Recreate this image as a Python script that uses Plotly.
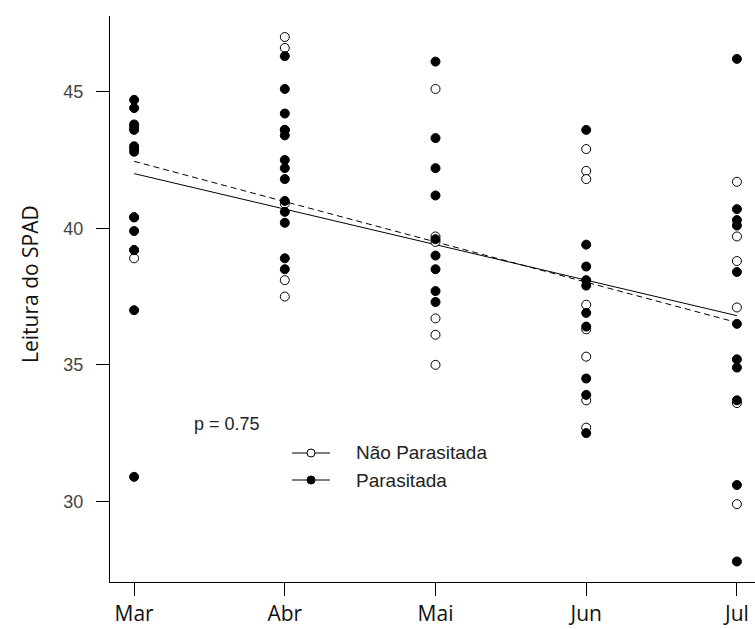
import plotly.graph_objects as go

months = ["Mar", "Abr", "Mai", "Jun", "Jul"]
y_ticks = [30, 35, 40, 45]
legend_labels = ["Não Parasitada", "Parasitada"]

# Não Parasitada (open circles)
nao_mar = [38.9, 43.7, 42.9, 40.4, 39.2]
nao_abr = [47.0, 46.6, 43.6, 40.9, 38.1, 37.5]
nao_mai = [45.1, 39.7, 39.5, 36.7, 36.1, 35.0]
nao_jun = [42.9, 42.1, 41.8, 37.2, 36.3, 35.3, 33.7, 32.7]
nao_jul = [41.7, 39.7, 38.8, 37.1, 33.6, 29.9]

# Parasitada (filled circles)
par_mar = [44.7, 44.4, 43.8, 43.6, 43.0, 42.8, 40.4, 39.9, 39.2, 37.0, 30.9]
par_abr = [46.3, 45.1, 44.2, 43.6, 43.4, 42.5, 42.2, 41.8, 41.0, 40.6, 40.2, 38.9, 38.5]
par_mai = [46.1, 43.3, 42.2, 41.2, 39.6, 39.0, 38.5, 37.7, 37.3]
par_jun = [43.6, 39.4, 38.6, 38.1, 37.9, 36.9, 36.4, 34.5, 33.9, 32.5]
par_jul = [46.2, 40.7, 40.3, 40.1, 38.4, 36.5, 35.2, 34.9, 33.7, 30.6, 27.8]

# Regression lines (values at Mar and Jul)
reg_x = [1, 5]
reg_solid = [42.0, 36.8]
reg_dashed = [42.45, 36.55]

nao = [nao_mar, nao_abr, nao_mai, nao_jun, nao_jul]
par = [par_mar, par_abr, par_mai, par_jun, par_jul]

def flatten(groups):
    xs, ys = [], []
    for i, g in enumerate(groups):
        xs += [i + 1] * len(g)
        ys += g
    return xs, ys

nx, ny = flatten(nao)
px_, py_ = flatten(par)

# pixel -> paper helpers (plot area: x 110..755, y 16..582)
L, R, T, B = 110, 755, 16, 582
def pxx(X):
    return (X - L) / (R - L)
def pxy(Y):
    return (B - Y) / (B - T)

fig = go.Figure()
fig.add_trace(go.Scatter(x=reg_x, y=reg_solid, mode="lines",
                         line=dict(color="black", width=1), showlegend=False))
fig.add_trace(go.Scatter(x=reg_x, y=reg_dashed, mode="lines",
                         line=dict(color="black", width=1, dash="6px,4px"), showlegend=False))
fig.add_trace(go.Scatter(x=nx, y=ny, mode="markers",
                         marker=dict(symbol="circle", size=9, color="white",
                                     line=dict(color="black", width=1)),
                         showlegend=False))
fig.add_trace(go.Scatter(x=px_, y=py_, mode="markers",
                         marker=dict(symbol="circle", size=9, color="black",
                                     line=dict(color="black", width=1)),
                         showlegend=False))

shapes = []
annotations = []
for i, (lab, fill) in enumerate(zip(legend_labels, ["white", "black"])):
    Y = 453 + 27 * i
    shapes.append(dict(type="line", xref="paper", yref="paper",
                       x0=pxx(292), x1=pxx(330), y0=pxy(Y), y1=pxy(Y),
                       line=dict(color="black", width=1)))
    shapes.append(dict(type="circle", xref="paper", yref="paper",
                       xsizemode="pixel", ysizemode="pixel",
                       xanchor=pxx(311), yanchor=pxy(Y),
                       x0=-4, x1=4, y0=-4, y1=4,
                       fillcolor=fill, line=dict(color="black", width=1)))
    annotations.append(dict(text=lab, x=pxx(354), y=pxy(Y), xref="paper", yref="paper",
                            xanchor="left", yanchor="middle", showarrow=False,
                            font=dict(family="Liberation Sans, Arial", size=19, color="#222")))

annotations += [
    dict(text="Leitura do SPAD", x=pxx(30), y=pxy(284),
         xref="paper", yref="paper", xanchor="center", yanchor="middle",
         showarrow=False, textangle=-90,
         font=dict(family="Open Sans", size=21, color="#111")),
    dict(text="p = 0.75", x=pxx(192), y=pxy(424),
         xref="paper", yref="paper",
         xanchor="left", yanchor="middle", showarrow=False,
         font=dict(family="Liberation Sans, Arial", size=18, color="#222")),
]

fig.update_layout(
    width=755, height=629,
    margin=dict(l=L, r=0, t=T, b=629 - B),
    paper_bgcolor="white", plot_bgcolor="white",
    showlegend=False,
    xaxis=dict(range=[0.84, 5.12], tickmode="array", tickvals=[1, 2, 3, 4, 5],
               ticktext=months, showgrid=False, zeroline=False,
               showline=True, linecolor="black", linewidth=1,
               ticks="outside", ticklen=13, tickcolor="black",
               ticklabelstandoff=0, automargin=False,
               tickfont=dict(family="Open Sans", size=21, color="#111")),
    yaxis=dict(range=[27.05, 47.77], tickmode="array", tickvals=y_ticks,
               showgrid=False, zeroline=False,
               showline=True, linecolor="black", linewidth=1,
               ticks="outside", ticklen=13, tickcolor="black",
               ticklabelstandoff=9, automargin=False,
               tickfont=dict(family="Liberation Sans, Arial", size=18, color="#444")),
    shapes=shapes,
    annotations=annotations,
)

fig.write_html("out.html")
